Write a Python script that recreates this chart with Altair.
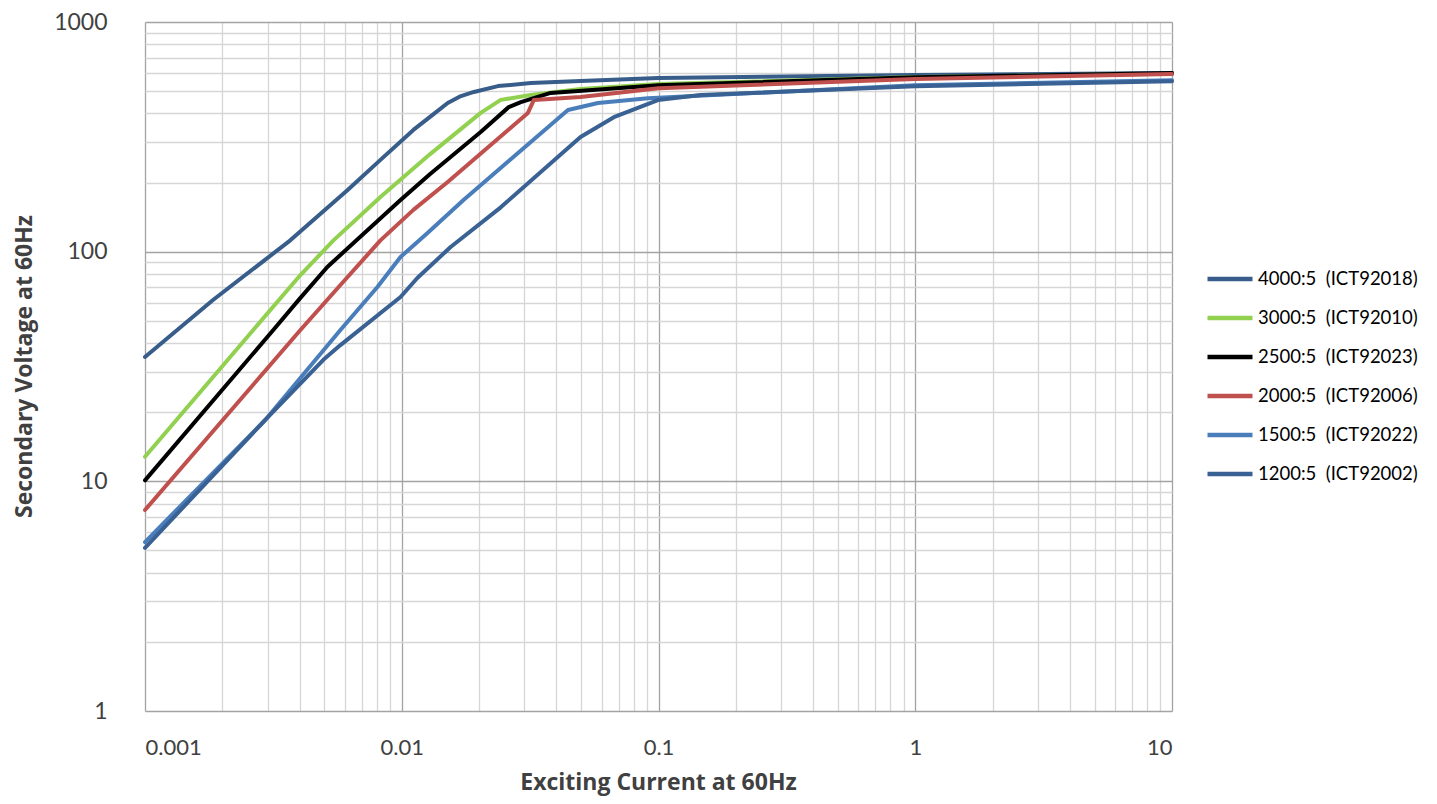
import altair as alt
import pandas as pd

series_names = [
    "4000:5 \u00a0(ICT92018)",
    "3000:5 \u00a0(ICT92010)",
    "2500:5 \u00a0(ICT92023)",
    "2000:5 \u00a0(ICT92006)",
    "1500:5 \u00a0(ICT92022)",
    "1200:5 \u00a0(ICT92002)",
]
series_colors = ["#385D8A", "#92D050", "#000000", "#C0504D", "#4A7EBB", "#3A6193"]

s4000_x = [0.001, 0.00184, 0.00368, 0.00614, 0.00826, 0.0111, 0.0133, 0.0151, 0.0170, 0.0191, 0.0237, 0.0318, 0.0497, 0.1, 1, 10]
s4000_y = [34.8, 61.6, 112, 185, 251, 339, 397, 444, 476, 496, 526, 542, 553, 570, 588, 600]

s3000_x = [0.001, 0.00264, 0.00403, 0.00542, 0.00826, 0.0129, 0.0203, 0.0243, 0.0318, 0.0497, 0.1, 1, 10]
s3000_y = [12.8, 45.6, 79.1, 112, 173, 266, 402, 458, 481, 511, 537, 576, 595]

s2500_x = [0.001, 0.00316, 0.00403, 0.00513, 0.00989, 0.0129, 0.0203, 0.0261, 0.0291, 0.038, 0.1, 1, 10]
s2500_y = [10.1, 45.6, 62.9, 85.8, 168, 218, 332, 426, 448, 491, 530, 574, 600]

s2000_x = [0.001, 0.00403, 0.00577, 0.00826, 0.0111, 0.0151, 0.031, 0.0327, 0.0497, 0.1, 1, 10]
s2000_y = [7.5, 45.6, 71.6, 112, 152, 201, 402, 458, 471, 515, 565, 593]

s1500_x = [0.001, 0.00294, 0.00577, 0.00804, 0.00989, 0.0126, 0.0174, 0.0444, 0.0581, 0.091, 1, 10]
s1500_y = [5.44, 18.5, 45.6, 70.2, 94.8, 120.6, 168, 414, 444, 466, 530, 558]

s1200_x = [0.001, 0.00294, 0.00495, 0.00577, 0.00989, 0.0115, 0.0155, 0.0243, 0.0497, 0.067, 0.0995, 0.146, 1, 10]
s1200_y = [5.13, 18.5, 33.8, 39.2, 63.5, 76.8, 104.8, 156, 316, 385, 457, 481, 525, 552]

all_x = [s4000_x, s3000_x, s2500_x, s2000_x, s1500_x, s1200_x]
all_y = [s4000_y, s3000_y, s2500_y, s2000_y, s1500_y, s1200_y]

rows = []
for name, xs, ys in zip(series_names, all_x, all_y):
    for i, (xv, yv) in enumerate(zip(xs, ys)):
        rows.append({"series": name, "current": xv, "voltage": yv, "order": i})
df = pd.DataFrame(rows)

x_grid = [m * 10.0 ** e for e in range(-3, 1) for m in range(1, 10)] + [10.0]
y_grid = [m * 10.0 ** e for e in range(0, 3) for m in range(1, 10)] + [1000.0]

major_test = "abs(log(datum.value)/LN10 - round(log(datum.value)/LN10)) < 1e-6"
label_expr = f"({major_test}) ? format(datum.value, '~g') : ''"
grid_color = {"condition": {"test": major_test, "value": "#a3a3a3"}, "value": "#d6d6d6"}

FONT = "Lato"
TFONT = "Open Sans"

chart = alt.Chart(df).mark_line(
    strokeWidth=4, strokeCap="round", strokeJoin="round"
).encode(
    x=alt.X(
        "current:Q",
        scale=alt.Scale(type="log", domain=[0.001, 10], nice=False),
        axis=alt.Axis(
            values=x_grid,
            labelExpr=label_expr,
            gridColor=grid_color,
            gridWidth=1.3,
            ticks=False,
            domain=False,
            labelOverlap=False,
            labelFontSize=22,
            labelFont=FONT,
            labelColor="#404040",
            labelPadding=26,
            title="Exciting Current at 60Hz",
            titleFont=TFONT,
            titleFontSize=23,
            titleFontWeight="bold",
            titleColor="#404040",
            titleX=513,
            titleY=71,
            titleBaseline="middle",
        ),
    ),
    y=alt.Y(
        "voltage:Q",
        scale=alt.Scale(type="log", domain=[1, 1000], nice=False),
        axis=alt.Axis(
            values=y_grid,
            labelExpr=label_expr,
            gridColor=grid_color,
            gridWidth=1.3,
            ticks=False,
            domain=False,
            labelOverlap=False,
            labelFontSize=23,
            labelFont=FONT,
            labelColor="#404040",
            labelPadding=38,
            title="Secondary Voltage at 60Hz",
            titleFont=TFONT,
            titleFontSize=23,
            titleFontWeight="bold",
            titleColor="#404040",
            titleX=-121,
            titleY=344,
            titleBaseline="middle",
        ),
    ),
    color=alt.Color(
        "series:N",
        scale=alt.Scale(domain=series_names, range=series_colors),
        sort=series_names,
        legend=alt.Legend(
            title=None,
            orient="none",
            legendX=1060,
            legendY=232,
            symbolType="stroke",
            symbolSize=2025,
            symbolStrokeWidth=4.5,
            labelFontSize=18.5,
            labelFont=FONT,
            labelColor="#000000",
            labelOffset=3,
            labelLimit=400,
            rowPadding=4,
        ),
    ),
    order="order:Q",
).properties(
    width=1027,
    height=689,
    autosize=alt.AutoSizeParams(type="none"),
    padding={"left": 137, "top": 14, "right": 256, "bottom": 85},
).configure_view(stroke=None)

chart.save("out.html", embed_options={"renderer": "svg", "actions": False})
